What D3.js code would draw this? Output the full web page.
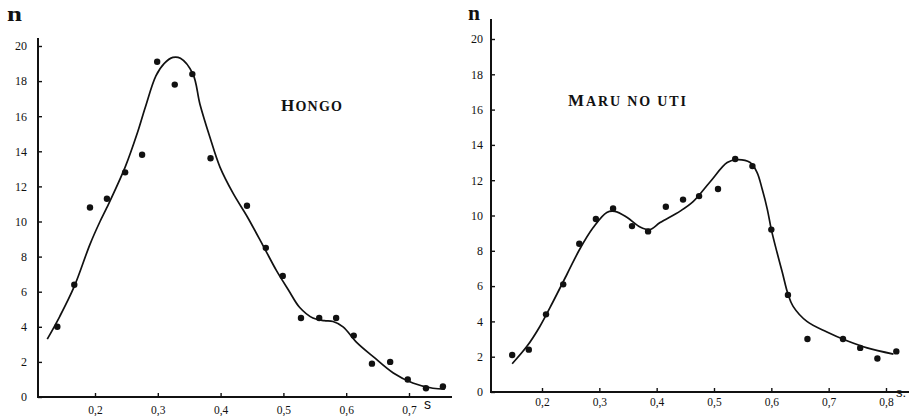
<!DOCTYPE html>
<html>
<head>
<meta charset="utf-8">
<script src="https://cdn.jsdelivr.net/npm/d3@7/dist/d3.min.js"></script>
<style>
  html, body { margin: 0; padding: 0; background: #fff; }
  svg { display: block; }
  .tick text { font-family: "Liberation Serif", "DejaVu Serif", serif; fill: #111; }
  .tick line { stroke: #111; stroke-width: 1.4; }
</style>
</head>
<body>
<svg id="chart" width="909" height="416"></svg>
<script>
// Interval counts n against interval length s (seconds), two stations.

// Hongo: observed counts
const hongoS = [0.140, 0.167, 0.192, 0.219, 0.248, 0.275, 0.299, 0.327, 0.355, 0.384, 0.442,
                0.472, 0.499, 0.528, 0.557, 0.584, 0.612, 0.641, 0.670, 0.698, 0.727, 0.754];
const hongoN = [4.0, 6.4, 10.8, 11.3, 12.8, 13.8, 19.1, 17.8, 18.4, 13.6, 10.9,
                8.5, 6.9, 4.5, 4.5, 4.5, 3.5, 1.9, 2.0, 1.0, 0.5, 0.6];
// Hongo: smoothed curve drawn through the counts
const hongoCurveS = [0.124, 0.144, 0.167, 0.192, 0.208, 0.219, 0.248, 0.267, 0.280, 0.297, 0.310,
                     0.324, 0.336, 0.356, 0.367, 0.383, 0.399, 0.420, 0.442, 0.468, 0.489, 0.508,
                     0.526, 0.547, 0.565, 0.579, 0.595, 0.617, 0.643, 0.675, 0.706, 0.738, 0.757];
const hongoCurveN = [3.3, 4.6, 6.3, 8.7, 10.0, 10.8, 13.1, 15.0, 16.5, 18.3, 19.0,
                     19.35, 19.3, 18.4, 16.7, 14.8, 13.1, 11.6, 10.3, 8.6, 7.2, 6.1,
                     5.1, 4.5, 4.35, 4.3, 4.0, 3.1, 2.3, 1.37, 0.8, 0.5, 0.45];

// Maru no uti: observed counts
const maruS = [0.148, 0.177, 0.207, 0.237, 0.265, 0.294, 0.324, 0.357, 0.385, 0.416, 0.446,
               0.474, 0.507, 0.537, 0.567, 0.600, 0.629, 0.663, 0.725, 0.755, 0.785, 0.818];
const maruN = [2.1, 2.4, 4.4, 6.1, 8.4, 9.8, 10.4, 9.4, 9.1, 10.5, 10.9,
               11.1, 11.5, 13.2, 12.8, 9.2, 5.5, 3.0, 3.0, 2.5, 1.9, 2.3];
// Maru no uti: smoothed curve
const maruCurveS = [0.148, 0.174, 0.196, 0.219, 0.244, 0.266, 0.289, 0.313, 0.327, 0.348, 0.371,
                    0.388, 0.406, 0.441, 0.464, 0.493, 0.523, 0.540, 0.563, 0.575, 0.584, 0.593,
                    0.600, 0.610, 0.619, 0.629, 0.638, 0.662, 0.697, 0.732, 0.767, 0.813];
const maruCurveN = [1.6, 2.6, 3.7, 5.1, 6.7, 8.1, 9.3, 10.17, 10.23, 9.9, 9.35,
                    9.2, 9.6, 10.25, 10.8, 11.9, 13.0, 13.16, 13.0, 12.45, 11.5, 10.35,
                    9.2, 7.9, 6.8, 5.55, 4.85, 4.0, 3.4, 2.9, 2.5, 2.15];

// Axis ticks and their printed labels
const yTicks = [0, 2, 4, 6, 8, 10, 12, 14, 16, 18, 20];
const hongoXTicks = [0.2, 0.3, 0.4, 0.5, 0.6, 0.7];
const hongoXLabels = ["0,2", "0,3", "0,4", "0,5", "0,6", "0,7"];
const maruXTicks = [0.2, 0.3, 0.4, 0.5, 0.6, 0.7, 0.8];
const maruXLabels = ["0,2", "0,3", "0,4", "0,5", "0,6", "0,7", "0,8"];

const svg = d3.select("#chart");
const ink = "#111";
const serif = "'Liberation Serif', 'DejaVu Serif', serif";
const sans = "'Liberation Sans', 'DejaVu Sans', sans-serif";

function panel(cfg) {
  const x = d3.scaleLinear().domain([0.2, cfg.xMaxTick]).range(cfg.xRange);
  const y = d3.scaleLinear().domain([0, 20]).range(cfg.yRange);
  const g = svg.append("g");
  const y0 = y(0);

  // y axis: ticks point inward
  const ya = g.append("g")
    .attr("transform", `translate(${cfg.axisX},0)`)
    .call(d3.axisLeft(y).tickValues(yTicks).tickSizeInner(-4).tickSizeOuter(0).tickPadding(cfg.yPad));
  ya.select(".domain").remove();
  ya.selectAll("text").attr("font-size", 12).attr("font-family", serif);
  g.append("line")
    .attr("x1", cfg.axisX).attr("x2", cfg.axisX)
    .attr("y1", cfg.axisTop).attr("y2", y0 + 1)
    .attr("stroke", ink).attr("stroke-width", 2);

  // x axis
  const xa = g.append("g")
    .attr("transform", `translate(0,${y0})`)
    .call(d3.axisBottom(x).tickValues(cfg.xTicks)
      .tickFormat((d, i) => cfg.xLabels[i])
      .tickSizeInner(-4).tickSizeOuter(0).tickPadding(cfg.xPad));
  xa.select(".domain").remove();
  xa.selectAll("text").attr("font-size", 11.5).attr("font-family", serif);
  g.append("line")
    .attr("x1", cfg.axisX - 1).attr("x2", cfg.axisRight)
    .attr("y1", y0).attr("y2", y0)
    .attr("stroke", ink).attr("stroke-width", 2);

  // smoothed curve
  const pts = cfg.curveS.map((s, i) => [s, cfg.curveN[i]]);
  g.append("path")
    .datum(pts)
    .attr("fill", "none")
    .attr("stroke", ink)
    .attr("stroke-width", 1.7)
    .attr("stroke-linejoin", "round")
    .attr("d", d3.line().x(d => x(d[0])).y(d => y(d[1])).curve(d3.curveCatmullRom.alpha(0.5)));

  // observed points
  g.selectAll("circle.obs")
    .data(cfg.s.map((s, i) => [s, cfg.n[i]]))
    .join("circle")
    .attr("class", "obs")
    .attr("cx", d => x(d[0]))
    .attr("cy", d => y(d[1]))
    .attr("r", 3.2)
    .attr("fill", ink);

  // axis names
  g.append("text")
    .attr("x", cfg.nPos[0]).attr("y", cfg.nPos[1])
    .attr("font-family", serif).attr("font-size", 21).attr("font-weight", "bold")
    .attr("textLength", cfg.nPos[2]).attr("lengthAdjust", "spacingAndGlyphs")
    .attr("fill", ink).text("n");
  g.append("text")
    .attr("x", cfg.sPos[0]).attr("y", cfg.sPos[1])
    .attr("font-family", sans).attr("font-size", cfg.sPos[2])
    .attr("fill", ink).text(cfg.sLabel);

  // station name in small capitals
  const t = g.append("text")
    .attr("x", cfg.title.x).attr("y", cfg.title.y)
    .attr("font-family", serif).attr("font-weight", "bold").attr("fill", ink)
    .attr("textLength", cfg.title.w).attr("lengthAdjust", "spacing");
  cfg.title.parts.forEach(p => {
    t.append("tspan").attr("font-size", p[1]).text(p[0]);
  });
}

panel({
  s: hongoS, n: hongoN, curveS: hongoCurveS, curveN: hongoCurveN,
  xMaxTick: 0.7, xRange: [95, 409], yRange: [397, 46],
  axisX: 38, axisTop: 38, axisRight: 452, yPad: 11, xPad: 9,
  xTicks: hongoXTicks, xLabels: hongoXLabels,
  nPos: [7, 21, 15], sPos: [424, 409, 14], sLabel: "s",
  title: { x: 281, y: 111, w: 61, parts: [["H", 17], ["ONGO", 14]] }
});

panel({
  s: maruS, n: maruN, curveS: maruCurveS, curveN: maruCurveN,
  xMaxTick: 0.8, xRange: [542, 886], yRange: [392, 39],
  axisX: 491, axisTop: 19, axisRight: 909, yPad: 8, xPad: 6,
  xTicks: maruXTicks, xLabels: maruXLabels,
  nPos: [468, 20, 12], sPos: [896, 397, 13], sLabel: "s.",
  title: { x: 568, y: 106, w: 118, parts: [["M", 17], ["ARU NO UTI", 14]] }
});
</script>
</body>
</html>
